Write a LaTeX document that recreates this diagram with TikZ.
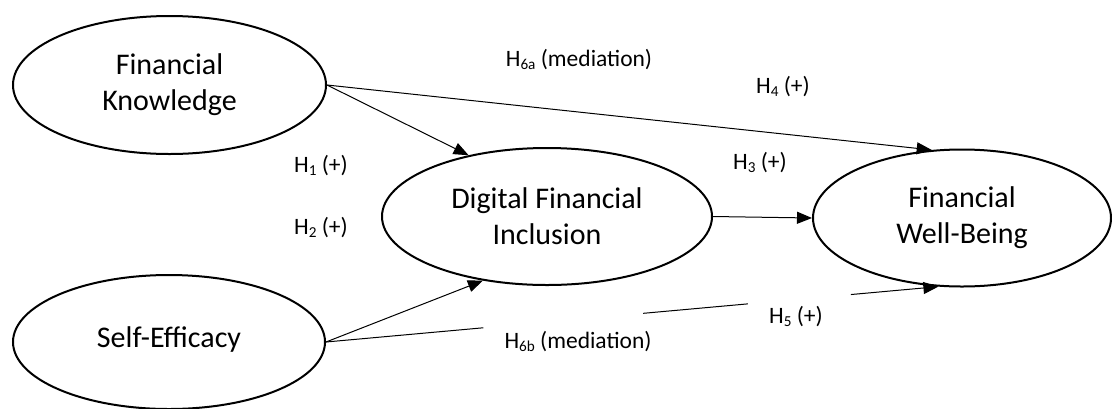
\documentclass[tikz,border=0pt]{standalone}
\usepackage{fontspec}
\setmainfont{Carlito}
\usetikzlibrary{shapes.geometric}
\usetikzlibrary{arrows.meta}
\newcommand{\hsub}[1]{\raisebox{-0.25ex}{\fontsize{7.6}{8}\selectfont #1}}

\begin{document}
\begin{tikzpicture}[x=0.5pt,y=-0.5pt,
  construct/.style={ellipse,draw=black,line width=1pt,inner sep=0pt,align=center,font=\fontsize{15}{18}\selectfont},
  hyp/.style={font=\fontsize{11.75}{14}\selectfont,inner sep=0pt,text=black},
  link/.style={draw=black,line width=0.5pt,-{Triangle[length=7.5pt,width=6pt]}},
  plain/.style={draw=black,line width=0.5pt}]
\useasboundingbox (0,0) rectangle (1112,408);

% constructs
\node[construct,minimum width=156.5pt,minimum height=69pt] (fk) at (169.5,85) {Financial\\Knowledge};
\node[construct,minimum width=156pt,minimum height=67pt] (se) at (169,342) {\raisebox{4.5pt}{Self-Efficacy}};
\node[construct,minimum width=165pt,minimum height=68.5pt] (dfi) at (547,216.5) {Digital Financial\\Inclusion};
\node[construct,minimum width=149pt,minimum height=68.5pt] (fwb) at (962,218) {Financial\\Well-Being};

% hypotheses
\node[hyp] (h6a) at (579,60) {H\hsub{6a} (mediation)};
\node[hyp] (h4) at (783,87) {H\hsub{4} (+)};
\node[hyp] (h1) at (321,166) {H\hsub{1} (+)};
\node[hyp] (h2) at (321,228) {H\hsub{2} (+)};
\node[hyp] (h3) at (760,163) {H\hsub{3} (+)};
\node[hyp] (h5) at (796,317) {H\hsub{5} (+)};
\node[hyp] (h6b) at (578,342) {H\hsub{6b} (mediation)};

% paths
\draw[link] (fk.east) -- (dfi.142);
\draw[link] (fk.east) -- (fwb.114);
\draw[link] (se.east) -- (dfi.225);
\draw[link] (dfi.east) -- (fwb.west);
\path (se.east) -- (fwb.251) coordinate[pos=0.257] (g1) coordinate[pos=0.518] (g2)
  coordinate[pos=0.689] (g3) coordinate[pos=0.857] (g4);
\draw[plain] (se.east) -- (g1);
\draw[plain] (g2) -- (g3);
\draw[link] (g4) -- (fwb.251);

\end{tikzpicture}
\end{document}
